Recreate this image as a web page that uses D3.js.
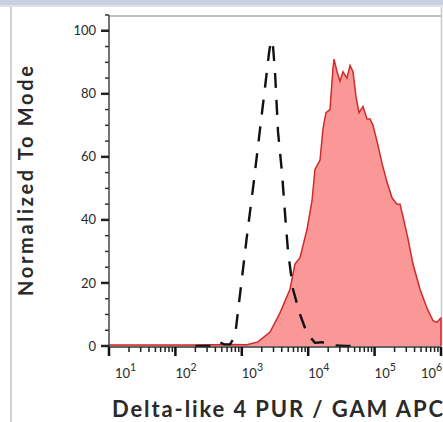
<!DOCTYPE html>
<html>
<head>
<meta charset="utf-8">
<script src="https://cdn.jsdelivr.net/npm/d3@7"></script>
<style>
  body { margin: 0; background: #fff; }
  text { font-family: Lato, "Open Sans", sans-serif; fill: #2a2a2a; }
</style>
</head>
<body>
<div id="chart"></div>
<script>
// stained sample (red, filled)
var redIntensity = [10, 200, 700, 1200, 1750, 2660, 3760, 5320, 6320, 7530, 9590, 11400, 12650,
  15070, 16710, 18530, 21280, 23600, 24490, 27160, 30130, 33420, 38370, 42660, 47320, 52480,
  58210, 66830, 76910, 85310, 94620, 108600, 129100, 153800, 182800, 217300, 241500, 267900,
  318400, 378400, 483100, 615200, 758600, 871000, 1000000];
var redCount = [0.3, 0.3, 0.5, 0.4, 1.3, 4.4, 10.5, 18, 26, 28, 37, 46, 56,
  59, 69, 74, 75, 88, 91, 87, 84, 87, 85, 89, 87, 79,
  74, 76, 72, 72, 70, 65, 58, 52, 47, 45, 45, 41,
  34, 26, 18, 12, 8, 7.5, 9];

// isotype control (black, dashed)
var ctrlIntensity = [200, 356, 438, 540, 664, 790, 973, 1197, 1474, 1815, 2235, 2570, 2754, 2952,
  3163, 3510, 4030, 4476, 4966, 5902, 7534, 9594, 12650, 16140, 21280, 35810, 60000];
var ctrlCount = [0, 0, 1.5, 0.5, 0.5, 3, 19, 35, 50, 66, 82, 93, 97, 95,
  87, 68, 55, 42, 30, 18, 10, 4, 1, 1.2, 0.3, 0, 0];

var yTicks = [0, 20, 40, 60, 80, 100];
var xDecades = [1, 2, 3, 4, 5, 6];

var W = 443, H = 422;
var svg = d3.select("#chart").append("svg")
    .attr("width", W)
    .attr("height", H);

// page chrome
svg.append("rect").attr("x", 0).attr("y", 0).attr("width", W).attr("height", 5).attr("fill", "#c8d0e2");
svg.append("rect").attr("x", 0).attr("y", 5).attr("width", W).attr("height", 2).attr("fill", "#e2e2e6");
svg.append("rect").attr("x", 10).attr("y", 7).attr("width", 2).attr("height", H - 7).attr("fill", "#d2d2d2");

var x = d3.scaleLog().domain([10, 1e6]).range([109, 441]);
var y = d3.scaleLinear().domain([0, 105]).range([346, 15]);

// frame
svg.append("line").attr("x1", 109).attr("x2", 442).attr("y1", 16).attr("y2", 16)
  .attr("stroke", "#a8a8a8").attr("stroke-width", 1.5);
svg.append("line").attr("x1", 441.5).attr("x2", 441.5).attr("y1", 7).attr("y2", 347)
  .attr("stroke", "#c8c8c8").attr("stroke-width", 1.5);

var red = redIntensity.map((d, i) => ({ q: d, p: redCount[i] }));
var ctrl = ctrlIntensity.map((d, i) => ({ q: d, p: ctrlCount[i] }));

var area = d3.area()
    .x(d => x(d.q))
    .y0(y(0))
    .y1(d => y(d.p));
var line = d3.line()
    .x(d => x(d.q))
    .y(d => y(d.p));

svg.append("path")
  .datum(red)
  .attr("d", area)
  .attr("fill", "#fa9898");
svg.append("path")
  .datum(red)
  .attr("d", line)
  .attr("fill", "none")
  .attr("stroke", "#d02a2a")
  .attr("stroke-width", 1.5);
svg.append("line")
  .attr("x1", x(1e6)).attr("x2", x(1e6))
  .attr("y1", y(redCount[redCount.length - 1])).attr("y2", y(0))
  .attr("stroke", "#d02a2a").attr("stroke-width", 1.5);

svg.append("path")
  .datum(ctrl)
  .attr("d", line)
  .attr("fill", "none")
  .attr("stroke", "#111")
  .attr("stroke-width", 2.4)
  .attr("stroke-dasharray", "15,12");

// y axis
var yMinor = d3.range(0, 106, 5);
var yAxis = svg.append("g");
yAxis.append("line").attr("x1", 109).attr("x2", 109).attr("y1", y(105)).attr("y2", 355)
  .attr("stroke", "#444").attr("stroke-width", 1.5);
yAxis.selectAll(".ymin").data(yMinor).join("line")
  .attr("x1", 105).attr("x2", 109)
  .attr("y1", d => y(d)).attr("y2", d => y(d))
  .attr("stroke", "#333").attr("stroke-width", 1.5);
yAxis.selectAll(".ymaj").data(yTicks).join("line")
  .attr("x1", 101).attr("x2", 109)
  .attr("y1", d => y(d)).attr("y2", d => y(d))
  .attr("stroke", "#222").attr("stroke-width", 2.5);
yAxis.selectAll("text").data(yTicks).join("text")
  .attr("x", 96).attr("y", d => y(d))
  .attr("dy", "0.35em")
  .attr("text-anchor", "end")
  .attr("font-size", 13)
  .text(d => d);

// x axis
var xAxis = svg.append("g");
xAxis.append("line").attr("x1", 109).attr("x2", 441).attr("y1", 347).attr("y2", 347)
  .attr("stroke", "#333").attr("stroke-width", 1.5);
var minors = [];
xDecades.slice(0, -1).forEach(e => {
  for (var k = 2; k < 10; k++) minors.push(k * Math.pow(10, e));
});
xAxis.selectAll(".xmin").data(minors).join("line")
  .attr("x1", d => x(d)).attr("x2", d => x(d))
  .attr("y1", 347).attr("y2", 352)
  .attr("stroke", "#222").attr("stroke-width", 1.5);
xAxis.selectAll(".xmaj").data(xDecades).join("line")
  .attr("x1", d => x(Math.pow(10, d))).attr("x2", d => x(Math.pow(10, d)))
  .attr("y1", 347).attr("y2", 356)
  .attr("stroke", "#111").attr("stroke-width", 2.5);
var lbl = xAxis.selectAll("text").data(xDecades).join("text")
  .attr("x", d => Math.min(Math.max(x(Math.pow(10, d)), 115), 421))
  .attr("y", 378)
  .attr("font-size", 13);
lbl.append("tspan").text("10");
lbl.append("tspan").attr("dy", -7).attr("font-size", 10.5).text(d => d);

// titles
svg.append("text")
  .attr("transform", "translate(33,181) rotate(-90)")
  .attr("text-anchor", "middle")
  .attr("font-size", 20)
  .attr("font-weight", "bold")
  .attr("textLength", 230)
  .attr("lengthAdjust", "spacing")
  .text("Normalized To Mode");
svg.append("text")
  .attr("x", 112).attr("y", 417)
  .attr("font-size", 22)
  .attr("font-weight", "bold")
  .attr("textLength", 331)
  .attr("lengthAdjust", "spacing")
  .text("Delta-like 4 PUR / GAM APC");
</script>
</body>
</html>
